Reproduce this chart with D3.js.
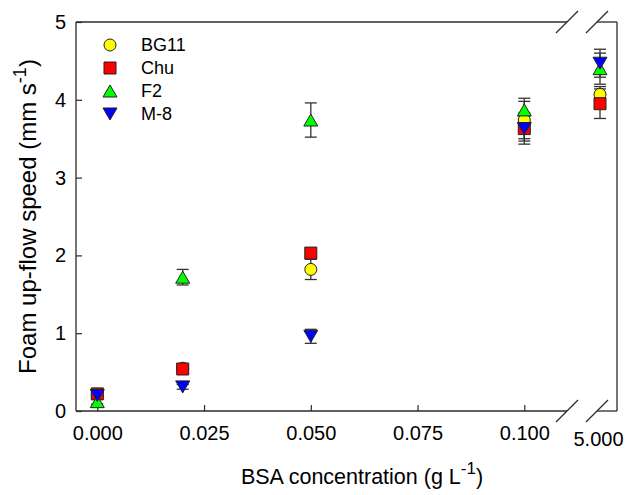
<!DOCTYPE html>
<html><head><meta charset="utf-8">
<script src="https://cdn.jsdelivr.net/npm/d3@7/dist/d3.min.js"></script>
<style>body{margin:0;background:#fff}svg{display:block}text{font-family:Arial,"Liberation Sans",sans-serif;fill:#000}</style>
</head><body>
<script>
// ---- data ----
const xValues = [0, 0.02, 0.05, 0.1, 5];
const seriesNames = ["BG11", "Chu", "F2", "M-8"];
const bg11 = [0.21, 0.55, 1.82, 3.74, 4.07];
const bg11Err = [0.03, 0.04, 0.13, 0.24, 0.1];
const chu = [0.22, 0.54, 2.03, 3.63, 3.95];
const chuErr = [0.03, 0.04, 0.05, 0.2, 0.19];
const f2 = [0.12, 1.72, 3.74, 3.87, 4.40];
const f2Err = [0.03, 0.1, 0.22, 0.15, 0.2];
const m8 = [0.20, 0.31, 0.96, 3.63, 4.47];
const m8Err = [0.03, 0.03, 0.09, 0.16, 0.18];
const xTickValues = [0, 0.025, 0.05, 0.075, 0.1];
const xBreakTick = 5;
const yTickValues = [0, 1, 2, 3, 4, 5];

const W = 627, H = 495;
const L = 76, R = 617, T = 22, B = 411;
const svg = d3.select("body").append("svg").attr("width", W).attr("height", H);

const x1 = d3.scaleLinear().domain([0, 0.1]).range([97.3, 524.3]);
const x2 = d3.scaleLinear().domain([4.99, 5.01]).range([590, 610]);
const xp = v => v > 1 ? x2(v) : x1(v);
const y = d3.scaleLinear().domain([0, 5]).range([B, T]);

const axisCol = "#2b2b2b";
// frame with breaks
const brk1 = 567, brk2 = 597;
const g = svg.append("g").attr("stroke", axisCol).attr("stroke-width", 1.3).attr("fill", "none");
[B, T].forEach(yy => {
  g.append("line").attr("x1", L).attr("x2", brk1).attr("y1", yy).attr("y2", yy);
  g.append("line").attr("x1", brk2).attr("x2", R).attr("y1", yy).attr("y2", yy);
  [brk1, brk2].forEach(bx => {
    g.append("line").attr("x1", bx - 11).attr("y1", yy + 11).attr("x2", bx + 11).attr("y2", yy - 11);
  });
});
g.append("line").attr("x1", L).attr("x2", L).attr("y1", T).attr("y2", B);
g.append("line").attr("x1", R).attr("x2", R).attr("y1", T).attr("y2", B);

// y axis (inward ticks)
const yAxis = d3.axisLeft(y).tickValues(yTickValues).tickFormat(d3.format("d")).tickSizeInner(-6).tickSizeOuter(0).tickPadding(10);
const ya = svg.append("g").attr("transform", `translate(${L},0)`).call(yAxis);
ya.select(".domain").remove();
ya.selectAll("line").attr("stroke", axisCol).attr("stroke-width", 1.2);
ya.selectAll("text").attr("font-size", 20).attr("font-family", "Arial, 'Liberation Sans', sans-serif");

// x axis
const xAxis = d3.axisBottom(x1).tickValues(xTickValues).tickFormat(d3.format(".3f")).tickSizeInner(-6).tickSizeOuter(0).tickPadding(15);
const xa = svg.append("g").attr("transform", `translate(0,${B})`).call(xAxis);
xa.select(".domain").remove();
xa.selectAll("line").attr("stroke", axisCol).attr("stroke-width", 1.2);
xa.selectAll("text").attr("font-size", 20).attr("font-family", "Arial, 'Liberation Sans', sans-serif");
const xa2 = svg.append("g").attr("transform", `translate(0,${B})`)
  .call(d3.axisBottom(x2).tickValues([xBreakTick]).tickFormat(d3.format(".3f")).tickSize(0).tickPadding(21));
xa2.select(".domain").remove();
xa2.selectAll("text").attr("font-size", 20).attr("font-family", "Arial, 'Liberation Sans', sans-serif").attr("dx", -2);

// axis titles
const yt = svg.append("text").attr("transform", `translate(36,${(T + B) / 2 + 0}) rotate(-90)`)
  .attr("text-anchor", "middle").attr("font-size", 24);
yt.append("tspan").text("Foam up-flow speed (mm s");
yt.append("tspan").attr("dy", -10).attr("font-size", 18).text("-1");
yt.append("tspan").attr("dy", 10).text(")");
const xt = svg.append("text").attr("x", 362).attr("y", 484).attr("text-anchor", "middle").attr("font-size", 21.5);
xt.append("tspan").text("BSA concentration (g L");
xt.append("tspan").attr("dy", -10).attr("font-size", 17).text("-1");
xt.append("tspan").attr("dy", 10).text(")");

// symbol types
const triUp = { draw(ctx, size) { const w = 14, h = 12; ctx.moveTo(0, -h / 2); ctx.lineTo(w / 2, h / 2); ctx.lineTo(-w / 2, h / 2); ctx.closePath(); } };
const triDown = { draw(ctx, size) { const w = 14, h = 12; ctx.moveTo(0, h / 2); ctx.lineTo(w / 2, -h / 2); ctx.lineTo(-w / 2, -h / 2); ctx.closePath(); } };
const series = [
  { name: seriesNames[0], vals: bg11, errs: bg11Err, type: d3.symbolCircle, size: 113, color: "#ffff00" },
  { name: seriesNames[1], vals: chu, errs: chuErr, type: d3.symbolSquare, size: 144, color: "#ff0000" },
  { name: seriesNames[2], vals: f2, errs: f2Err, type: triUp, size: 100, color: "#00ff00" },
  { name: seriesNames[3], vals: m8, errs: m8Err, type: triDown, size: 100, color: "#0000ff" }
];

// error bars
const eg = svg.append("g").attr("stroke", "#333").attr("stroke-width", 1.3);
series.forEach(s => {
  s.vals.forEach((v, i) => {
    const cx = xp(xValues[i]), e = s.errs[i];
    eg.append("line").attr("x1", cx).attr("x2", cx).attr("y1", y(v + e)).attr("y2", y(v - e));
    [v + e, v - e].forEach(t => eg.append("line").attr("x1", cx - 6).attr("x2", cx + 6).attr("y1", y(t)).attr("y2", y(t)));
  });
});

// markers
series.forEach(s => {
  svg.append("g").selectAll("path").data(s.vals).join("path")
    .attr("d", d3.symbol().type(s.type).size(s.size))
    .attr("transform", (v, i) => `translate(${xp(xValues[i])},${y(v)})`)
    .attr("fill", s.color).attr("stroke", "#222").attr("stroke-width", 1);
});

// legend
const lg = svg.append("g");
series.forEach((s, i) => {
  const ly = 45 + i * 23;
  lg.append("path").attr("d", d3.symbol().type(s.type).size(s.size)).attr("transform", `translate(110,${ly})`)
    .attr("fill", s.color).attr("stroke", "#222").attr("stroke-width", 1);
  lg.append("text").attr("x", 141).attr("y", ly).attr("dy", "0.36em").attr("font-size", 18).text(s.name);
});
</script>
</body></html>
